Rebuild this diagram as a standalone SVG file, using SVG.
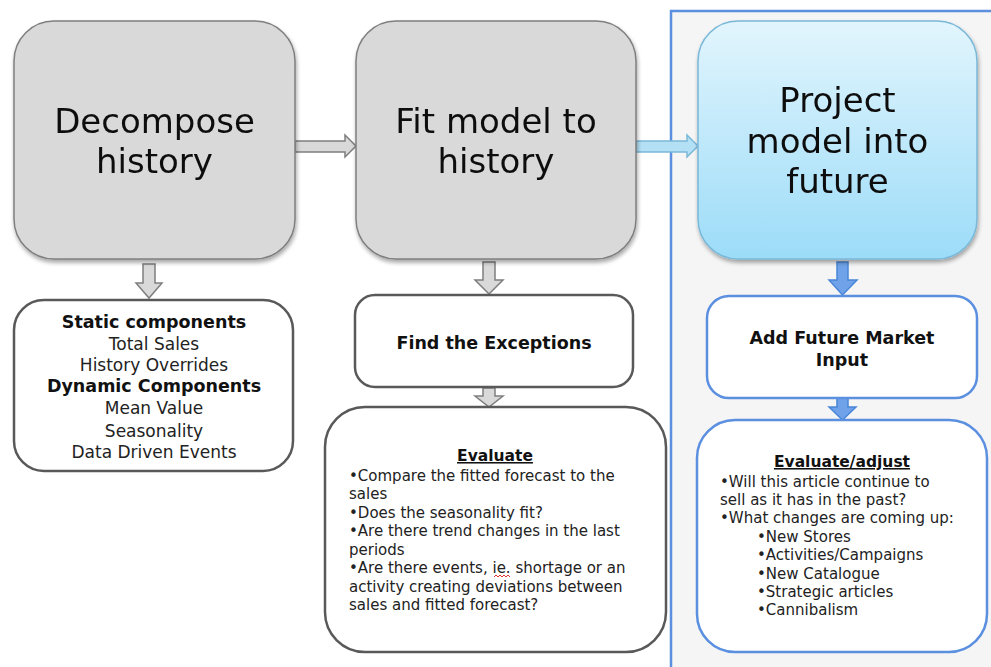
<svg xmlns="http://www.w3.org/2000/svg" width="991" height="667" viewBox="0 0 991 667">
<defs>
<linearGradient id="blueGrad" x1="0" y1="0" x2="0" y2="1">
<stop offset="0" stop-color="#e2f5fd"/>
<stop offset="1" stop-color="#9cdcf8"/>
</linearGradient>
<filter id="shadow" x="-10%" y="-10%" width="130%" height="130%">
<feGaussianBlur in="SourceAlpha" stdDeviation="2"/>
<feOffset dx="1" dy="3" result="b"/>
<feComponentTransfer><feFuncA type="linear" slope="0.35"/></feComponentTransfer>
<feMerge><feMergeNode/><feMergeNode in="SourceGraphic"/></feMerge>
</filter>
<style>
.big{fill:#d9d9d9;stroke:#7f7f7f;stroke-width:1.5}
.bigblue{fill:url(#blueGrad);stroke:#7ab8d8;stroke-width:1.5}
.title{font-family:"DejaVu Sans",Verdana,sans-serif;font-size:34px;fill:#111;text-anchor:middle}
.gbox{fill:#fff;stroke:#595959;stroke-width:2.5}
.bbox{fill:#fff;stroke:#5b8fe0;stroke-width:2.5}
.t{font-family:"DejaVu Sans",Verdana,sans-serif;font-size:17px;fill:#222}
.tb{font-family:"DejaVu Sans",Verdana,sans-serif;font-size:17.5px;font-weight:bold;fill:#111}
.s{font-family:"DejaVu Sans",Verdana,sans-serif;font-size:15px;fill:#222}
.sb{font-family:"DejaVu Sans",Verdana,sans-serif;font-size:15.5px;font-weight:bold;fill:#111;text-decoration:underline}
.c{text-anchor:middle}
.garrow{fill:#d9d9d9;stroke:#7f7f7f;stroke-width:1.5}
.barrowh{fill:#b4e0f5;stroke:#7ab8d8;stroke-width:1.5}
.barrow{fill:#6fa2e8;stroke:#4a86d8;stroke-width:1.5}
</style>
</defs>
<rect width="991" height="667" fill="#ffffff"/>
<g id="panel">
<rect x="671" y="11" width="330" height="670" fill="#f5f5f5" stroke="#5b8fe0" stroke-width="2.5"/>
</g>
<g id="connectors">
<path class="garrow" d="M295 141 H345 V135 L356 146 L345 157 V152 H295 Z"/>
<path class="barrowh" d="M636 141 H687 V135 L698 146 L687 157 V152 H636 Z"/>
<path class="garrow" d="M143 264 H155 V283 H162 L149 298 L136 283 H143 Z"/>
<path class="garrow" d="M483 262 H495 V280 H503 L489 294 L475 280 H483 Z"/>
<path class="garrow" d="M483 388 H495 V396 H503 L489 407 L475 396 H483 Z"/>
<path class="barrow" d="M837 262 H848 V280 H857 L842.5 295 L829 280 H837 Z"/>
<path class="barrow" d="M837 398 H848 V407 H856 L842.5 420 L829 407 H837 Z"/>
</g>
<g id="decompose" filter="url(#shadow)">
<rect class="big" x="14" y="21" width="281" height="238" rx="40"/>
<text class="title" x="154.5" y="133">Decompose</text>
<text class="title" x="154.5" y="173">history</text>
</g>
<g id="fit" filter="url(#shadow)">
<rect class="big" x="356" y="21" width="280" height="238" rx="40"/>
<text class="title" x="496" y="133">Fit model to</text>
<text class="title" x="496" y="173">history</text>
</g>
<g id="project" filter="url(#shadow)">
<rect class="bigblue" x="698" y="21" width="279" height="238" rx="40"/>
<text class="title" x="837.5" y="112">Project</text>
<text class="title" x="837.5" y="153">model into</text>
<text class="title" x="837.5" y="193">future</text>
</g>
<g id="components">
<rect class="gbox" x="14" y="300" width="279" height="171" rx="30"/>
<text class="tb c" x="154" y="328">Static components</text>
<text class="t c" x="154" y="350">Total Sales</text>
<text class="t c" x="154" y="371">History Overrides</text>
<text class="tb c" x="154" y="392">Dynamic Components</text>
<text class="t c" x="154" y="414">Mean Value</text>
<text class="t c" x="154" y="437">Seasonality</text>
<text class="t c" x="154" y="458">Data Driven Events</text>
</g>
<g id="exceptions">
<rect class="gbox" x="355" y="295" width="278" height="92" rx="20"/>
<text class="tb c" x="494" y="349">Find the Exceptions</text>
</g>
<g id="evaluate">
<rect class="gbox" x="325" y="407" width="341" height="245" rx="40"/>
<text class="sb c" x="495" y="461">Evaluate</text>
<text class="s" x="349" y="481">•Compare the fitted forecast to the</text>
<text class="s" x="349" y="499">sales</text>
<text class="s" x="349" y="518">•Does the seasonality fit?</text>
<text class="s" x="349" y="536">•Are there trend changes in the last</text>
<text class="s" x="349" y="555">periods</text>
<text class="s" x="349" y="573">•Are there events, ie. shortage or an</text>
<text class="s" x="349" y="592">activity creating deviations between</text>
<text class="s" x="349" y="610">sales and fitted forecast?</text>
<path d="M494 577 l2 -2 l2 2 l2 -2 l2 2 l2 -2 l2 2 l2 -2 l2 2" fill="none" stroke="#e03030" stroke-width="1"/>
</g>
<g id="market">
<rect class="bbox" x="707" y="296" width="270" height="102" rx="22"/>
<text class="tb c" x="842" y="344">Add Future Market</text>
<text class="tb c" x="842" y="366">Input</text>
</g>
<g id="adjust">
<rect class="bbox" x="697" y="420" width="290" height="232" rx="38"/>
<text class="sb c" x="842" y="467">Evaluate/adjust</text>
<text class="s" x="720" y="487">•Will this article continue to</text>
<text class="s" x="720" y="505">sell as it has in the past?</text>
<text class="s" x="720" y="523">•What changes are coming up:</text>
<text class="s" x="757" y="542">•New Stores</text>
<text class="s" x="757" y="560">•Activities/Campaigns</text>
<text class="s" x="757" y="579">•New Catalogue</text>
<text class="s" x="757" y="597">•Strategic articles</text>
<text class="s" x="757" y="615">•Cannibalism</text>
</g>
</svg>
